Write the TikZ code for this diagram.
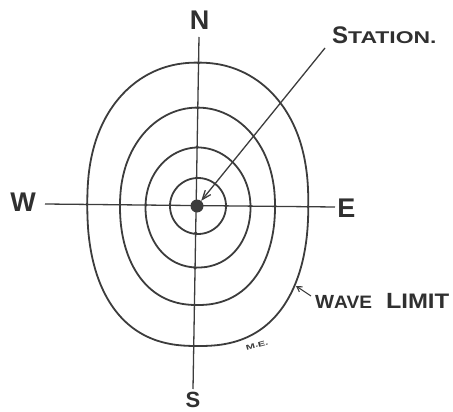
\documentclass[tikz,border=0pt]{standalone}
\usepackage{fontspec}
\setmainfont{Liberation Sans}
\usetikzlibrary{arrows.meta}
\definecolor{ink}{HTML}{3C3C3C}
\definecolor{txt}{HTML}{303030}
\newcommand{\eggcurve}[6]{plot[domain=0.5:360.5, samples=121, smooth] ({#1+#3*sign(cos(\x))*abs(cos(\x))^(2/(#5+#6*sin(\x)))}, {#2+#4*sign(sin(\x))*abs(sin(\x))^(2/(#5+#6*sin(\x)))}) -- cycle}
\tikzset{
  ring/.style={draw=ink, line width=1.8pt},
  axis/.style={draw=ink, line width=1.3pt},
  pointer/.style={draw=ink, line width=1.3pt},
  compass/.style={text=txt, inner sep=0pt, font=\fontsize{27}{27}\selectfont\bfseries},
  lbl/.style={text=txt, inner sep=0pt, anchor=base west, font=\bfseries},
  tick/.style={fill=ink}
}
\begin{document}
\begin{tikzpicture}[x=1pt, y=-1pt]
\useasboundingbox (0,0) rectangle (453,412);
% compass labels
\node[compass] (N) at (199.5,20) {N};
\node[compass, font=\fontsize{22}{22}\selectfont\bfseries] (S) at (193,400) {S};
\node[compass] (E) at (346.5,208.5) {E};
\node[compass] (W) at (23,202.5) {W};
% axis ends
\coordinate (ntop) at (199,37);
\coordinate (sbot) at (193,389);
\coordinate (wend) at (45,204);
\coordinate (eend) at (335,207);
\draw[axis] (ntop) -- (sbot);
\draw[axis] (wend) -- (eend);
% rings
\draw[ring] \eggcurve{198}{206}{28}{28}{2}{0};
\draw[ring] \eggcurve{198}{207.5}{52.5}{60}{2.05}{0.05};
\draw[ring] \eggcurve{197.5}{206.3}{77.5}{98.7}{2.15}{0.1};
\draw[ring] \eggcurve{197.8}{204.3}{110.5}{141.7}{2.3}{0.12};
% crossing ticks
\foreach \px in {87,120,146,170,226,250.5,275,308}
  \fill[tick] (\px,{204+(\px-45)*0.01034}) circle[radius=1.7pt];
\foreach \py in {63,108,147,178,233,268,305,346}
  \fill[tick] ({199-(\py-37)*0.017},\py) circle[radius=1.7pt];
% station
\node[circle, fill=ink, minimum size=13pt, inner sep=0pt] (dot) at (197,206) {};
\node[lbl] (station) at (332,44) {\fontsize{24}{24}\selectfont S\fontsize{17}{17}\selectfont\scalebox{1.35}[1]{TATION.}};
\coordinate (stail) at (325,48);
\draw[pointer, -{Straight Barb[length=9pt,width=7pt]}] (stail) -- (dot);
% wave limit
\node[lbl] (wave) at (315,308) {\scalebox{1.06}[1]{\fontsize{19}{19}\selectfont W\fontsize{18}{18}\selectfont AVE}\hspace{14pt}\scalebox{1.14}[1]{\fontsize{22}{22}\selectfont L\fontsize{21}{21}\selectfont IMIT}};
\coordinate (wtail) at (311,296);
\coordinate (whead) at (296,286);
\draw[pointer, line width=1.1pt, -{Straight Barb[length=5pt,width=6pt]}] (wtail) -- (whead);
% signature
\node[text=ink, inner sep=0pt, rotate=15, font=\fontsize{7}{7}\selectfont\bfseries] (sig) at (257,345) {\scalebox{1.6}[1]{M.E.}};
\end{tikzpicture}
\end{document}
